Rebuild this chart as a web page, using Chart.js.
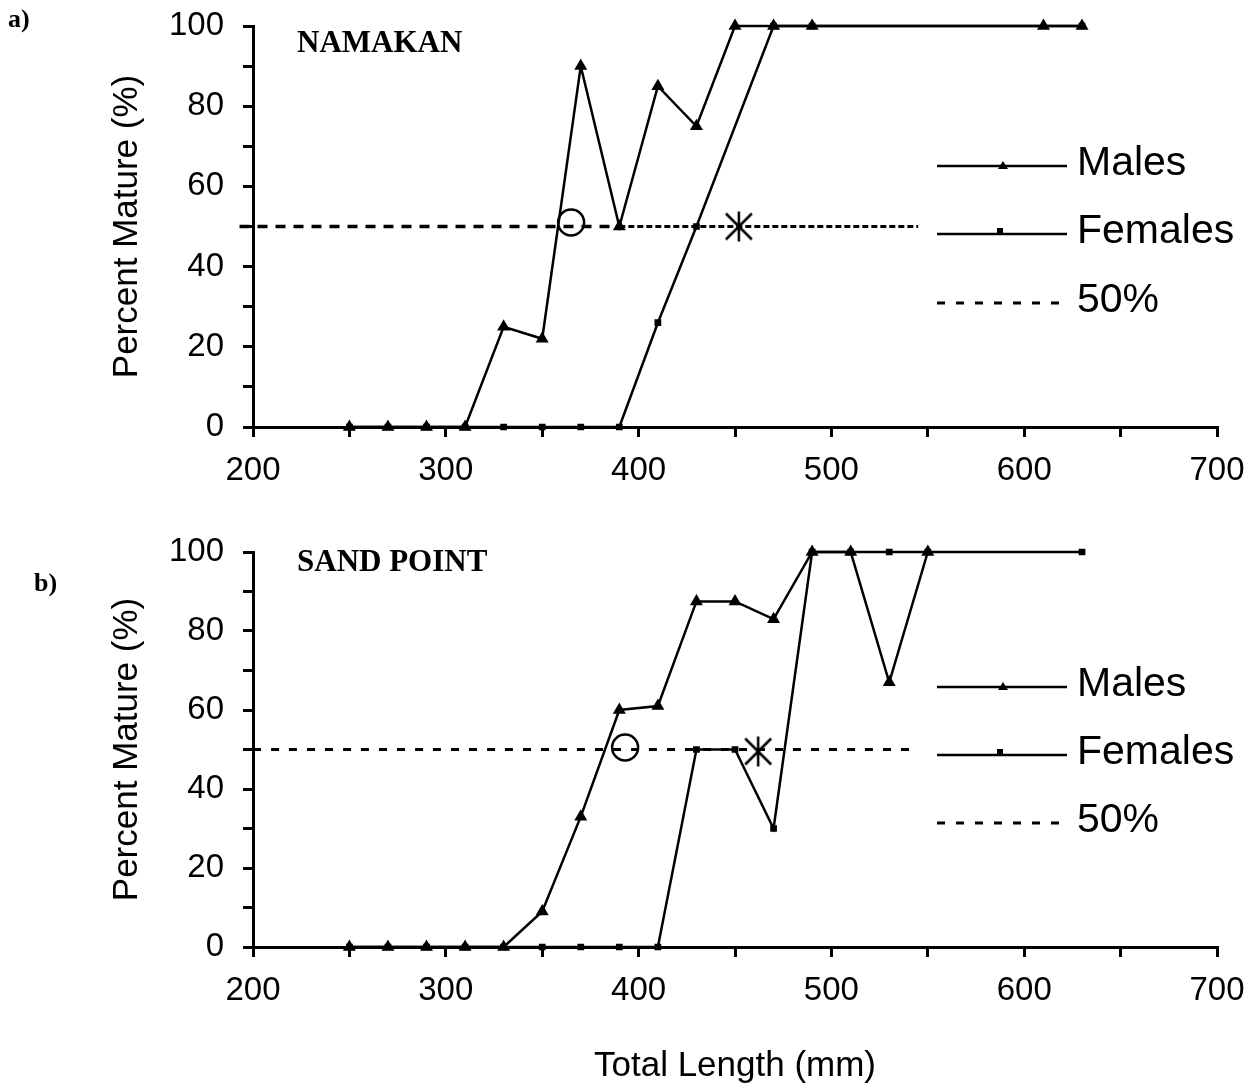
<!DOCTYPE html>
<html>
<head>
<meta charset="utf-8">
<script src="https://cdn.jsdelivr.net/npm/chart.js@4.4.1/dist/chart.umd.min.js"></script>
<style>
html,body{margin:0;padding:0;background:#fff;}
#wrap{position:relative;width:1255px;height:1088px;overflow:hidden;background:#fff;}
#ca{position:absolute;left:0;top:0;}
#cb{position:absolute;left:0;top:520px;}
</style>
</head>
<body>
<div id="wrap">
<canvas id="ca" width="1255" height="520"></canvas>
<canvas id="cb" width="1255" height="568"></canvas>
</div>
<script>
// ---------- DATA ----------
const xTickLabels = [200, 300, 400, 500, 600, 700];
const yTickLabels = [0, 20, 40, 60, 80, 100];
const legendLabels = ['Males', 'Females', '50%'];

// a) NAMAKAN
const namakanMaleLength   = [250, 270, 290, 310, 330, 350, 370, 390, 410, 430, 450, 470, 490, 610, 630];
const namakanMalePct      = [0, 0, 0, 0, 25, 22, 90, 50, 85, 75, 100, 100, 100, 100, 100];
const namakanFemaleLength = [250, 270, 290, 310, 330, 350, 370, 390, 410, 430, 470, 490, 630];
const namakanFemalePct    = [0, 0, 0, 0, 0, 0, 0, 0, 26, 50, 100, 100, 100];
const namakanHalfLineA    = [193, 390];   // long-dash part of 50% line
const namakanHalfLineB    = [390, 545];   // short-dash part of 50% line
const namakanMale50       = [365, 51];    // circle (x, %)
const namakanFemale50     = [452, 50];    // asterisk (x, %)

// b) SAND POINT
const sandMaleLength   = [250, 270, 290, 310, 330, 350, 370, 390, 410, 430, 450, 470, 490, 510, 530, 550];
const sandMalePct      = [0, 0, 0, 0, 0, 9, 33, 60, 61, 87.5, 87.5, 83, 100, 100, 67, 100];
const sandFemaleLength = [250, 270, 290, 310, 330, 350, 370, 390, 410, 430, 450, 470, 490, 510, 530, 550, 630];
const sandFemalePct    = [0, 0, 0, 0, 0, 0, 0, 0, 0, 50, 50, 30, 100, 100, 100, 100, 100];
const sandHalfLine     = [200, 545];
const sandMale50       = [393, 50.5];
const sandFemale50     = [462, 49.5];

// ---------- HELPERS ----------
const pts = (xs, ys) => xs.map((x, i) => ({x: x, y: ys[i]}));
const SANS = '"Liberation Sans", Arial, sans-serif';
const SERIF = '"Liberation Serif", "Times New Roman", serif';
Chart.defaults.font.family = SANS;
Chart.defaults.color = '#000';

function makeAsterisk() {
  const c = document.createElement('canvas');
  c.width = 34; c.height = 34;
  const g = c.getContext('2d');
  g.strokeStyle = '#000'; g.lineWidth = 2.5; g.lineCap = 'butt';
  const m = 17, d = 13, v = 15;
  g.beginPath();
  g.moveTo(m - d, m - d); g.lineTo(m + d, m + d);
  g.moveTo(m + d, m - d); g.lineTo(m - d, m + d);
  g.moveTo(m, m - v); g.lineTo(m, m + v);
  g.stroke();
  return c;
}
const asterisk = makeAsterisk();

const annotPlugin = {
  id: 'annot',
  afterDraw(chart, args, o) {
    const ctx = chart.ctx;
    ctx.save();
    ctx.fillStyle = '#000';
    ctx.strokeStyle = '#000';
    ctx.textAlign = 'left';
    ctx.textBaseline = 'middle';
    ctx.font = 'bold 26px ' + SERIF;
    ctx.fillText(o.panel, o.panelX, o.panelY);
    ctx.font = 'bold 31px ' + SERIF;
    ctx.fillText(o.site, 297, o.siteY);
    // legend
    const x0 = 937, x1 = 1067, tx = 1077, ys = o.legendY;
    ctx.lineWidth = 2.5;
    ctx.setLineDash([]);
    // males
    ctx.beginPath(); ctx.moveTo(x0, ys[0]); ctx.lineTo(x1, ys[0]); ctx.stroke();
    ctx.beginPath(); ctx.moveTo(1003, ys[0] - 5); ctx.lineTo(1008, ys[0] + 3); ctx.lineTo(998, ys[0] + 3); ctx.closePath(); ctx.fill();
    // females
    ctx.beginPath(); ctx.moveTo(x0, ys[1]); ctx.lineTo(x1, ys[1]); ctx.stroke();
    ctx.fillRect(997, ys[1] - 6, 6, 6);
    // 50%
    ctx.lineWidth = 3;
    ctx.setLineDash([8, 11]);
    ctx.beginPath(); ctx.moveTo(x0, ys[2]); ctx.lineTo(1063, ys[2]); ctx.stroke();
    ctx.setLineDash([]);
    ctx.font = '41px ' + SANS;
    for (let i = 0; i < 3; i++) ctx.fillText(legendLabels[i], tx, ys[i] - 2);
    ctx.restore();
  }
};

function zeroPad(s) { s.paddingTop = 0; s.paddingBottom = 0; s.paddingLeft = 0; s.paddingRight = 0; }

function makeConfig(p) {
  const datasets = [
    {label: 'Males', data: pts(p.mx, p.my), borderColor: '#000', backgroundColor: '#000', borderWidth: 2.5,
     pointStyle: 'triangle', pointRadius: 5, tension: 0, clip: false},
    {label: 'Females', data: pts(p.fx, p.fy), borderColor: '#000', backgroundColor: '#000', borderWidth: 2.5,
     pointStyle: 'rect', pointRadius: 3, tension: 0, clip: false}
  ];
  p.halfLines.forEach(h => datasets.push({
    label: '50%', data: pts(h.xs, [50, 50]), borderColor: '#000', borderWidth: h.w,
    borderDash: h.dash, pointRadius: 0, tension: 0, clip: false
  }));
  datasets.push({label: 'M50', data: [{x: p.m50[0], y: p.m50[1]}], showLine: false, pointStyle: 'circle',
    pointRadius: 13, borderWidth: 2.5, borderColor: '#000', backgroundColor: 'rgba(0,0,0,0)', clip: false});
  datasets.push({label: 'F50', data: [{x: p.f50[0], y: p.f50[1]}], showLine: false, pointStyle: asterisk,
    pointRadius: 15, clip: false});

  return {
    type: 'line',
    data: {datasets: datasets},
    options: {
      responsive: false,
      animation: false,
      events: [],
      layout: {padding: {left: 0, right: 38, top: p.top, bottom: 0}},
      plugins: {legend: {display: false}, tooltip: {enabled: false}, annot: p.annot},
      scales: {
        x: {
          type: 'linear', min: 200, max: 700,
          afterFit: s => { s.height = p.h - 427; zeroPad(s); },
          ticks: {stepSize: 50, autoSkip: false, maxRotation: 0, padding: p.xtickPad,
                  font: {size: 33}, color: '#000',
                  callback: v => xTickLabels.includes(v) ? String(v) : ''},
          grid: {display: true, drawOnChartArea: false, drawTicks: true, tickLength: 10, color: '#000', lineWidth: 3},
          border: {display: true, color: '#000', width: 3},
          title: {display: p.xTitle, text: 'Total Length (mm)', font: {size: 35}, color: '#000', padding: {top: 0, bottom: 1}}
        },
        y: {
          type: 'linear', min: 0, max: 100,
          afterFit: s => { s.width = 253; zeroPad(s); },
          ticks: {stepSize: 10, autoSkip: false, padding: 19, font: {size: 33}, color: '#000',
                  callback: v => yTickLabels.includes(v) ? String(v) : ''},
          grid: {display: true, drawOnChartArea: false, drawTicks: true, tickLength: 10, color: '#000', lineWidth: 3},
          border: {display: true, color: '#000', width: 3},
          title: {display: true, text: 'Percent Mature (%)', font: {size: 35}, color: '#000', padding: {top: 106, bottom: 0}}
        }
      }
    },
    plugins: [annotPlugin]
  };
}

new Chart(document.getElementById('ca'), makeConfig({
  h: 520, top: 26, xTitle: false, xtickPad: 14,
  mx: namakanMaleLength, my: namakanMalePct, fx: namakanFemaleLength, fy: namakanFemalePct,
  halfLines: [{xs: namakanHalfLineA, dash: [10, 8], w: 3.5}, {xs: namakanHalfLineB, dash: [6, 3], w: 3}],
  m50: namakanMale50, f50: namakanFemale50,
  annot: {panel: 'a)', panelX: 8, panelY: 20, site: 'NAMAKAN', siteY: 44, legendY: [166, 234, 303]}
}));

new Chart(document.getElementById('cb'), makeConfig({
  h: 568, top: 32, xTitle: true, xtickPad: 14,
  mx: sandMaleLength, my: sandMalePct, fx: sandFemaleLength, fy: sandFemalePct,
  halfLines: [{xs: sandHalfLine, dash: [8, 10], w: 3}],
  m50: sandMale50, f50: sandFemale50,
  annot: {panel: 'b)', panelX: 34, panelY: 64, site: 'SAND POINT', siteY: 43, legendY: [167, 235, 303]}
}));
</script>
</body>
</html>
